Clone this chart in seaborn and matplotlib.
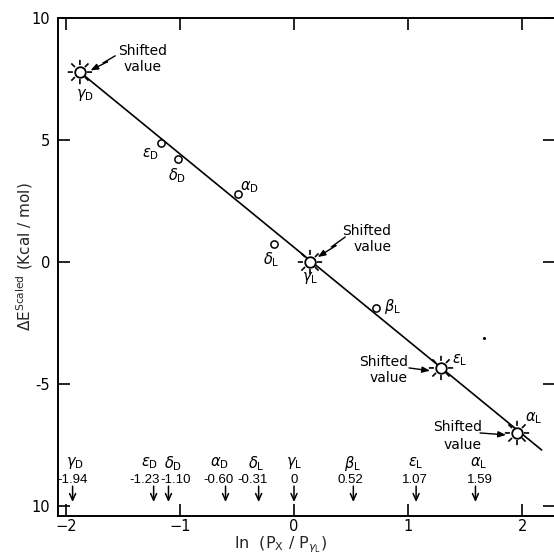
import numpy as np
import pandas as pd
import matplotlib
matplotlib.use("Agg")
import matplotlib.pyplot as plt
import seaborn as sns
from matplotlib.path import Path
from matplotlib.transforms import Affine2D, ScaledTranslation

# ---------------- data ----------------
circle_labels = [r"$\epsilon_{\rm D}$", r"$\delta_{\rm D}$", r"$\alpha_{\rm D}$",
                 r"$\delta_{\rm L}$", r"$\beta_{\rm L}$"]
circle_x = [-1.166, -1.017, -0.491, -0.175, 0.719]
circle_y = [4.89, 4.23, 2.79, 0.74, -1.89]

shift_labels = [r"$\gamma_{\rm D}$", r"$\gamma_{\rm L}$", r"$\epsilon_{\rm L}$", r"$\alpha_{\rm L}$"]
shift_x = [-1.876, 0.140, 1.288, 1.954]
shift_y = [7.80, 0.00, -4.35, -7.02]

fit_x = [-1.876, 2.17]
fit_y = [7.80, -7.72]

speck_x = [1.665]
speck_y = [-3.12]

ref_names = [r"$\gamma_{\rm D}$", r"$\epsilon_{\rm D}$", r"$\delta_{\rm D}$", r"$\alpha_{\rm D}$",
             r"$\delta_{\rm L}$", r"$\gamma_{\rm L}$", r"$\beta_{\rm L}$", r"$\epsilon_{\rm L}$",
             r"$\alpha_{\rm L}$"]
ref_values = [-1.94, -1.23, -1.10, -0.60, -0.31, 0.0, 0.52, 1.07, 1.59]
ref_texts = ["-1.94", "-1.23", "-1.10", "-0.60", "-0.31", "0", "0.52", "1.07", "1.59"]

xticks = [-2, -1, 0, 1, 2]
xtick_labels = ["\u22122", "\u22121", "0", "1", "2"]
yticks = [-10, -5, 0, 5, 10]
ytick_labels = ["10", "-5", "0", "5", "10"]

# ---------------- style ----------------
sns.set_theme(style="white")
plt.rcParams["font.family"] = ["DejaVu Sans"]
plt.rcParams["mathtext.fontset"] = "dejavusans"
plt.rcParams["axes.edgecolor"] = "black"
plt.rcParams["axes.linewidth"] = 1.4
plt.rcParams["text.color"] = "black"

NARROW = ["Liberation Sans", "DejaVu Sans"]

fig = plt.figure(figsize=(5.54, 5.59), dpi=100)
ax = fig.add_axes([58 / 554, 43 / 559, 497 / 554, 498 / 559])

# fitted line
sns.lineplot(x=fit_x, y=fit_y, ax=ax, color="black", lw=1.2, zorder=2,
             legend=False, sort=False)

# sun-like marker (rays) for shifted values
verts, codes = [], []
for ang in np.deg2rad(np.arange(0, 360, 45)):
    verts += [(0.58 * np.cos(ang), 0.58 * np.sin(ang)), (np.cos(ang), np.sin(ang))]
    codes += [Path.MOVETO, Path.LINETO]
rays = Path(verts, codes)

df_shift = pd.DataFrame({"x": shift_x, "y": shift_y})
sns.scatterplot(data=df_shift, x="x", y="y", ax=ax, marker=rays, s=17.5 ** 2,
                facecolors="none", edgecolor="black", linewidth=1.2, zorder=3,
                legend=False)
sns.scatterplot(data=df_shift, x="x", y="y", ax=ax, marker="o", s=7.6 ** 2,
                facecolor="white", edgecolor="black", linewidth=1.3, zorder=4,
                legend=False)

df_circ = pd.DataFrame({"x": circle_x, "y": circle_y})
sns.scatterplot(data=df_circ, x="x", y="y", ax=ax, marker="o", s=5.2 ** 2,
                facecolor="white", edgecolor="black", linewidth=1.1, zorder=4,
                legend=False)

sns.scatterplot(x=speck_x, y=speck_y, ax=ax, marker="o", s=2.2 ** 2,
                color="black", linewidth=0, zorder=4, legend=False)

# point labels
circle_off = [(-7.2, -7.9), (-0.7, -12.2), (8.6, 5.0), (-2.2, -11.5), (11.5, 1.4)]
for lab, x, y, off in zip(circle_labels, circle_x, circle_y, circle_off):
    ax.annotate(lab, (x, y), xytext=off, textcoords="offset points",
                ha="center", va="center", fontsize=10.5)

shift_off = [(3.6, -16.6), (0.0, -11.5), (13.7, 5.8), (12.2, 10.8)]
for lab, x, y, off in zip(shift_labels, shift_x, shift_y, shift_off):
    ax.annotate(lab, (x, y), xytext=off, textcoords="offset points",
                ha="center", va="center", fontsize=10.5)


def pt_trans(x, y):
    return Affine2D().scale(1 / 72.0) + fig.dpi_scale_trans + ScaledTranslation(x, y, ax.transData)


arrow_kw = dict(arrowstyle="-|>,head_length=0.38,head_width=0.15", color="black", lw=1.0,
                shrinkA=0, shrinkB=0)

# "Shifted value" notes: zig-zag (lightning) arrows for the two gamma points
bolts = [
    dict(text=(45.4, 9.4), pts=[(25.4, 11.7), (16.6, 6.5), (19.8, 7.4)], tip=(7.6, 1.2)),
    dict(text=(41.0, 16.6), pts=[(25.4, 18.0), (15.3, 10.8), (18.7, 11.8)], tip=(5.6, 3.6)),
]
for i, b in enumerate(bolts):
    x, y = shift_x[i], shift_y[i]
    t = pt_trans(x, y)
    ax.annotate("Shifted\nvalue", (x, y), xytext=b["text"], textcoords="offset points",
                ha="center", va="center", multialignment="center" if i == 0 else "right",
                fontsize=10, linespacing=1.1)
    px = [p[0] for p in b["pts"]]
    py = [p[1] for p in b["pts"]]
    ax.plot(px, py, transform=t, color="black", lw=1.0, zorder=5)
    ax.annotate("", xy=b["tip"], xycoords=t, xytext=b["pts"][-1], textcoords=t,
                arrowprops=arrow_kw)

# straight arrows for the epsilon_L and alpha_L points
straight = [
    dict(text=(-23.8, -1.4), ls=1.15, start=(-23.0, 0.0), tip=(-7.9, -2.0)),
    dict(text=(-25.2, -2.2), ls=1.3, start=(-26.6, 0.0), tip=(-7.9, -1.4)),
]
for j, s in enumerate(straight):
    i = j + 2
    x, y = shift_x[i], shift_y[i]
    t = pt_trans(x, y)
    ax.annotate("Shifted\nvalue", (x, y), xytext=s["text"], textcoords="offset points",
                ha="right", va="center", multialignment="right", fontsize=10,
                linespacing=s["ls"])
    ax.annotate("", xy=s["tip"], xycoords=t, xytext=s["start"], textcoords=t,
                arrowprops=arrow_kw)

# reference values along the bottom
value_dx = [0, -6.5, 5.0, -5.0, -4.3, 0, -2.2, -0.7, 2.9]   # points
name_dx = [1.4, -2.9, 3.6, -4.3, -1.4, 0, -0.7, 0, 2.2]     # points
btrans = ax.get_xaxis_transform()
for name, v, txt, vdx, ndx in zip(ref_names, ref_values, ref_texts, value_dx, name_dx):
    ax.annotate("", xy=(v, 0.028), xycoords=btrans, xytext=(v, 0.060), textcoords=btrans,
                arrowprops=dict(arrowstyle="->,head_length=0.4,head_width=0.18",
                                color="black", lw=1.1, shrinkA=0, shrinkB=0))
    ax.annotate(txt, (v, 0.073), xycoords=btrans, xytext=(vdx, 0), textcoords="offset points",
                ha="center", va="center", fontsize=9.5, family=NARROW)
    ax.annotate(name, (v, 0.106), xycoords=btrans, xytext=(ndx, 0), textcoords="offset points",
                ha="center", va="center", fontsize=10.5)

# axes
ax.set_xlim(-2.068, 2.287)
ax.set_ylim(-10.43, 10.02)
ax.set_xticks(xticks)
ax.set_xticklabels(xtick_labels)
ax.set_yticks(yticks)
ax.set_yticklabels(ytick_labels)
ax.tick_params(axis="both", which="major", direction="in", length=8.6, width=1.2,
               top=True, right=True, bottom=True, left=True, labelsize=10.5,
               colors="black")
ax.tick_params(axis="y", pad=5.5)
ax.tick_params(axis="x", pad=2.5)
for sp in ax.spines.values():
    sp.set_visible(True)
    sp.set_color("black")
    sp.set_linewidth(1.4)

ax.set_xlabel(r"ln  (P$_{\rm X}$ / P$_{\gamma_{\rm L}}$)", fontsize=11.5)
ax.xaxis.set_label_coords(0.447, -0.037)
ax.set_ylabel(r"$\Delta$E$^{\rm Scaled}$ (Kcal / mol)", fontsize=11)
ax.yaxis.set_label_coords(-0.046, 0.52)

fig.savefig("out.png", dpi=100)
